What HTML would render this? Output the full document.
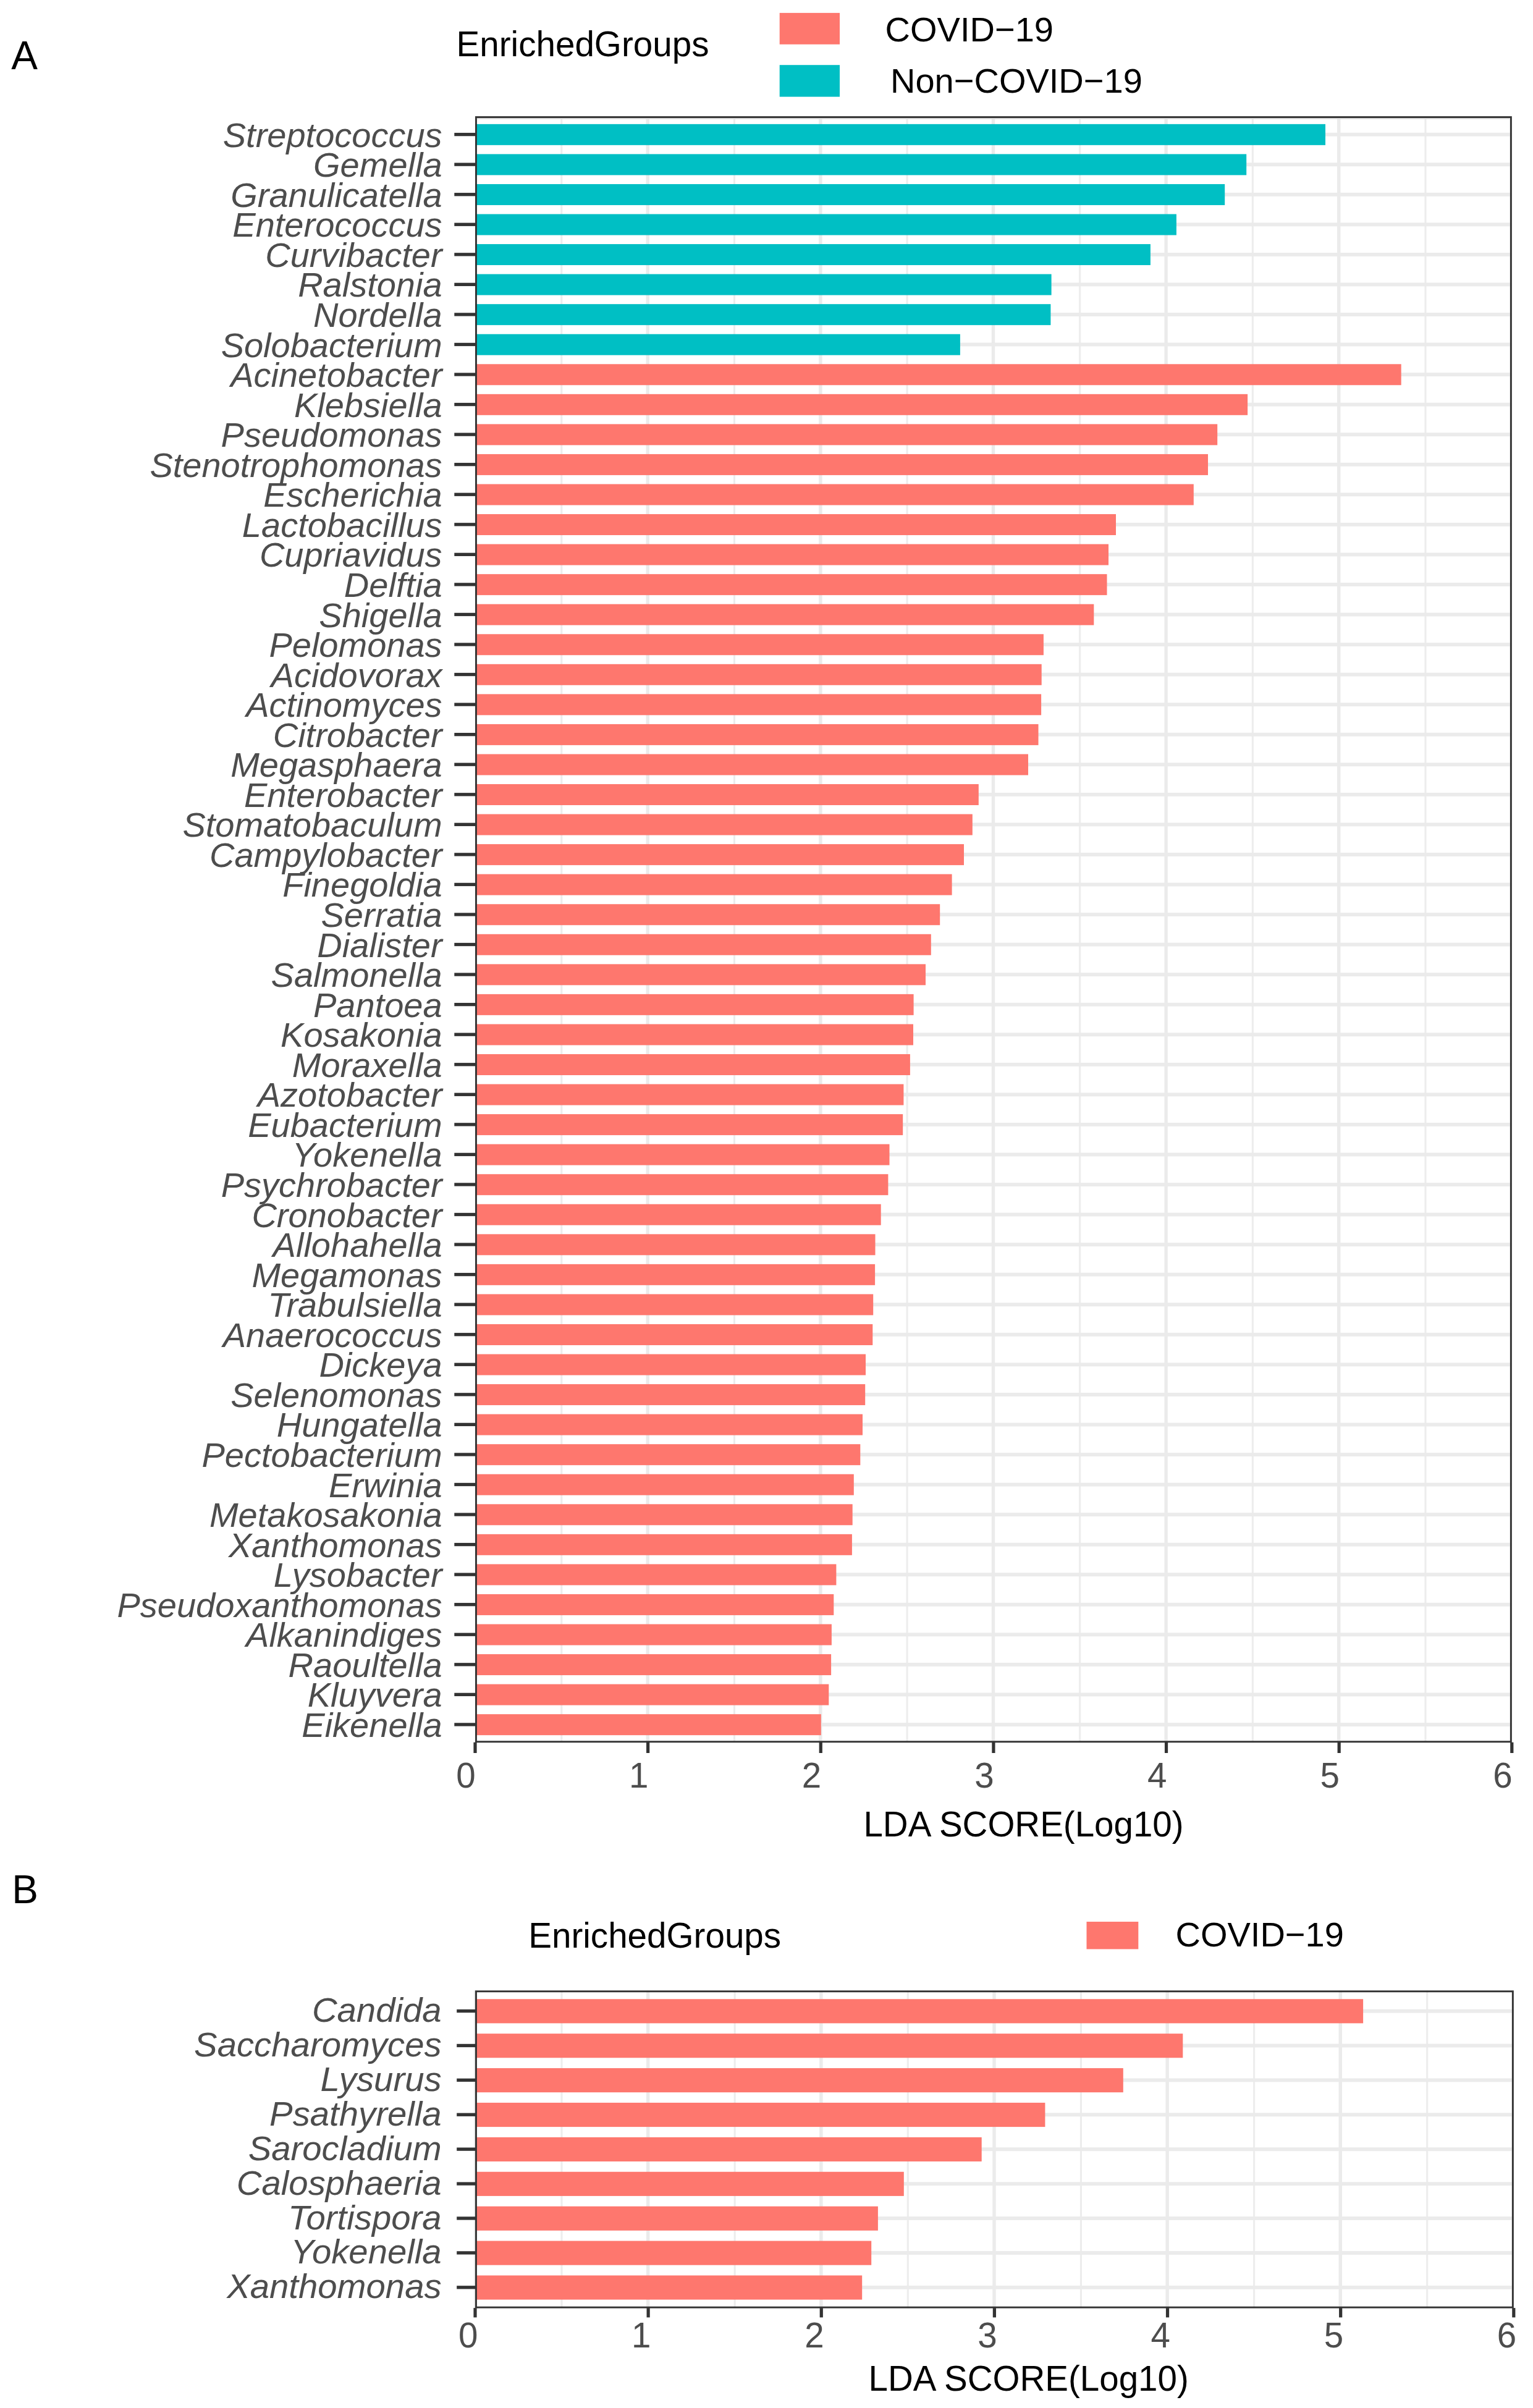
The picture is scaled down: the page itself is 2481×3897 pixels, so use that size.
<!DOCTYPE html>
<html lang="en"><head><meta charset="utf-8"><title>LDA score of enriched genera</title>
<style>html,body{margin:0;padding:0;background:#fff}svg{display:block}</style></head><body>
<svg width="2481" height="3897" viewBox="0 0 2481 3897">
<rect width="2481" height="3897" fill="#ffffff"/>
<g id="panelA">
<clipPath id="clipA"><rect x="769.0" y="188.1" width="1677.8000000000002" height="2632.1"/></clipPath>
<g clip-path="url(#clipA)">
<rect x="907.22" y="188.1" width="3.1" height="2632.10" fill="#EDEDED"/>
<rect x="1186.85" y="188.1" width="3.1" height="2632.10" fill="#EDEDED"/>
<rect x="1466.48" y="188.1" width="3.1" height="2632.10" fill="#EDEDED"/>
<rect x="1746.12" y="188.1" width="3.1" height="2632.10" fill="#EDEDED"/>
<rect x="2025.75" y="188.1" width="3.1" height="2632.10" fill="#EDEDED"/>
<rect x="2305.38" y="188.1" width="3.1" height="2632.10" fill="#EDEDED"/>
<rect x="765.90" y="188.1" width="5.4" height="2632.10" fill="#EBEBEB"/>
<rect x="1045.53" y="188.1" width="5.4" height="2632.10" fill="#EBEBEB"/>
<rect x="1325.17" y="188.1" width="5.4" height="2632.10" fill="#EBEBEB"/>
<rect x="1604.80" y="188.1" width="5.4" height="2632.10" fill="#EBEBEB"/>
<rect x="1884.43" y="188.1" width="5.4" height="2632.10" fill="#EBEBEB"/>
<rect x="2164.07" y="188.1" width="5.4" height="2632.10" fill="#EBEBEB"/>
<rect x="2443.70" y="188.1" width="5.4" height="2632.10" fill="#EBEBEB"/>
<rect x="769.0" y="214.75" width="1677.8000000000002" height="5.9" fill="#EBEBEB"/>
<rect x="769.0" y="263.30" width="1677.8000000000002" height="5.9" fill="#EBEBEB"/>
<rect x="769.0" y="311.86" width="1677.8000000000002" height="5.9" fill="#EBEBEB"/>
<rect x="769.0" y="360.41" width="1677.8000000000002" height="5.9" fill="#EBEBEB"/>
<rect x="769.0" y="408.96" width="1677.8000000000002" height="5.9" fill="#EBEBEB"/>
<rect x="769.0" y="457.51" width="1677.8000000000002" height="5.9" fill="#EBEBEB"/>
<rect x="769.0" y="506.07" width="1677.8000000000002" height="5.9" fill="#EBEBEB"/>
<rect x="769.0" y="554.62" width="1677.8000000000002" height="5.9" fill="#EBEBEB"/>
<rect x="769.0" y="603.17" width="1677.8000000000002" height="5.9" fill="#EBEBEB"/>
<rect x="769.0" y="651.73" width="1677.8000000000002" height="5.9" fill="#EBEBEB"/>
<rect x="769.0" y="700.28" width="1677.8000000000002" height="5.9" fill="#EBEBEB"/>
<rect x="769.0" y="748.83" width="1677.8000000000002" height="5.9" fill="#EBEBEB"/>
<rect x="769.0" y="797.39" width="1677.8000000000002" height="5.9" fill="#EBEBEB"/>
<rect x="769.0" y="845.94" width="1677.8000000000002" height="5.9" fill="#EBEBEB"/>
<rect x="769.0" y="894.49" width="1677.8000000000002" height="5.9" fill="#EBEBEB"/>
<rect x="769.0" y="943.04" width="1677.8000000000002" height="5.9" fill="#EBEBEB"/>
<rect x="769.0" y="991.60" width="1677.8000000000002" height="5.9" fill="#EBEBEB"/>
<rect x="769.0" y="1040.15" width="1677.8000000000002" height="5.9" fill="#EBEBEB"/>
<rect x="769.0" y="1088.70" width="1677.8000000000002" height="5.9" fill="#EBEBEB"/>
<rect x="769.0" y="1137.26" width="1677.8000000000002" height="5.9" fill="#EBEBEB"/>
<rect x="769.0" y="1185.81" width="1677.8000000000002" height="5.9" fill="#EBEBEB"/>
<rect x="769.0" y="1234.36" width="1677.8000000000002" height="5.9" fill="#EBEBEB"/>
<rect x="769.0" y="1282.92" width="1677.8000000000002" height="5.9" fill="#EBEBEB"/>
<rect x="769.0" y="1331.47" width="1677.8000000000002" height="5.9" fill="#EBEBEB"/>
<rect x="769.0" y="1380.02" width="1677.8000000000002" height="5.9" fill="#EBEBEB"/>
<rect x="769.0" y="1428.57" width="1677.8000000000002" height="5.9" fill="#EBEBEB"/>
<rect x="769.0" y="1477.13" width="1677.8000000000002" height="5.9" fill="#EBEBEB"/>
<rect x="769.0" y="1525.68" width="1677.8000000000002" height="5.9" fill="#EBEBEB"/>
<rect x="769.0" y="1574.23" width="1677.8000000000002" height="5.9" fill="#EBEBEB"/>
<rect x="769.0" y="1622.79" width="1677.8000000000002" height="5.9" fill="#EBEBEB"/>
<rect x="769.0" y="1671.34" width="1677.8000000000002" height="5.9" fill="#EBEBEB"/>
<rect x="769.0" y="1719.89" width="1677.8000000000002" height="5.9" fill="#EBEBEB"/>
<rect x="769.0" y="1768.45" width="1677.8000000000002" height="5.9" fill="#EBEBEB"/>
<rect x="769.0" y="1817.00" width="1677.8000000000002" height="5.9" fill="#EBEBEB"/>
<rect x="769.0" y="1865.55" width="1677.8000000000002" height="5.9" fill="#EBEBEB"/>
<rect x="769.0" y="1914.11" width="1677.8000000000002" height="5.9" fill="#EBEBEB"/>
<rect x="769.0" y="1962.66" width="1677.8000000000002" height="5.9" fill="#EBEBEB"/>
<rect x="769.0" y="2011.21" width="1677.8000000000002" height="5.9" fill="#EBEBEB"/>
<rect x="769.0" y="2059.76" width="1677.8000000000002" height="5.9" fill="#EBEBEB"/>
<rect x="769.0" y="2108.32" width="1677.8000000000002" height="5.9" fill="#EBEBEB"/>
<rect x="769.0" y="2156.87" width="1677.8000000000002" height="5.9" fill="#EBEBEB"/>
<rect x="769.0" y="2205.42" width="1677.8000000000002" height="5.9" fill="#EBEBEB"/>
<rect x="769.0" y="2253.98" width="1677.8000000000002" height="5.9" fill="#EBEBEB"/>
<rect x="769.0" y="2302.53" width="1677.8000000000002" height="5.9" fill="#EBEBEB"/>
<rect x="769.0" y="2351.08" width="1677.8000000000002" height="5.9" fill="#EBEBEB"/>
<rect x="769.0" y="2399.63" width="1677.8000000000002" height="5.9" fill="#EBEBEB"/>
<rect x="769.0" y="2448.19" width="1677.8000000000002" height="5.9" fill="#EBEBEB"/>
<rect x="769.0" y="2496.74" width="1677.8000000000002" height="5.9" fill="#EBEBEB"/>
<rect x="769.0" y="2545.29" width="1677.8000000000002" height="5.9" fill="#EBEBEB"/>
<rect x="769.0" y="2593.85" width="1677.8000000000002" height="5.9" fill="#EBEBEB"/>
<rect x="769.0" y="2642.40" width="1677.8000000000002" height="5.9" fill="#EBEBEB"/>
<rect x="769.0" y="2690.95" width="1677.8000000000002" height="5.9" fill="#EBEBEB"/>
<rect x="769.0" y="2739.51" width="1677.8000000000002" height="5.9" fill="#EBEBEB"/>
<rect x="769.0" y="2788.06" width="1677.8000000000002" height="5.9" fill="#EBEBEB"/>
<rect x="769.0" y="200.86" width="1376.00" height="33.99" fill="#00BFC4"/>
<rect x="769.0" y="249.41" width="1248.20" height="33.99" fill="#00BFC4"/>
<rect x="769.0" y="297.96" width="1213.20" height="33.99" fill="#00BFC4"/>
<rect x="769.0" y="346.52" width="1134.90" height="33.99" fill="#00BFC4"/>
<rect x="769.0" y="395.07" width="1092.90" height="33.99" fill="#00BFC4"/>
<rect x="769.0" y="443.62" width="932.60" height="33.99" fill="#00BFC4"/>
<rect x="769.0" y="492.17" width="931.40" height="33.99" fill="#00BFC4"/>
<rect x="769.0" y="540.73" width="784.90" height="33.99" fill="#00BFC4"/>
<rect x="769.0" y="589.28" width="1498.70" height="33.99" fill="#FE776E"/>
<rect x="769.0" y="637.83" width="1250.10" height="33.99" fill="#FE776E"/>
<rect x="769.0" y="686.39" width="1201.20" height="33.99" fill="#FE776E"/>
<rect x="769.0" y="734.94" width="1186.00" height="33.99" fill="#FE776E"/>
<rect x="769.0" y="783.49" width="1162.80" height="33.99" fill="#FE776E"/>
<rect x="769.0" y="832.05" width="1037.00" height="33.99" fill="#FE776E"/>
<rect x="769.0" y="880.60" width="1025.00" height="33.99" fill="#FE776E"/>
<rect x="769.0" y="929.15" width="1022.50" height="33.99" fill="#FE776E"/>
<rect x="769.0" y="977.70" width="1001.30" height="33.99" fill="#FE776E"/>
<rect x="769.0" y="1026.26" width="919.90" height="33.99" fill="#FE776E"/>
<rect x="769.0" y="1074.81" width="916.70" height="33.99" fill="#FE776E"/>
<rect x="769.0" y="1123.36" width="916.10" height="33.99" fill="#FE776E"/>
<rect x="769.0" y="1171.92" width="911.50" height="33.99" fill="#FE776E"/>
<rect x="769.0" y="1220.47" width="895.00" height="33.99" fill="#FE776E"/>
<rect x="769.0" y="1269.02" width="814.80" height="33.99" fill="#FE776E"/>
<rect x="769.0" y="1317.58" width="804.80" height="33.99" fill="#FE776E"/>
<rect x="769.0" y="1366.13" width="791.00" height="33.99" fill="#FE776E"/>
<rect x="769.0" y="1414.68" width="771.60" height="33.99" fill="#FE776E"/>
<rect x="769.0" y="1463.23" width="752.20" height="33.99" fill="#FE776E"/>
<rect x="769.0" y="1511.79" width="737.80" height="33.99" fill="#FE776E"/>
<rect x="769.0" y="1560.34" width="729.00" height="33.99" fill="#FE776E"/>
<rect x="769.0" y="1608.89" width="709.60" height="33.99" fill="#FE776E"/>
<rect x="769.0" y="1657.45" width="709.00" height="33.99" fill="#FE776E"/>
<rect x="769.0" y="1706.00" width="703.90" height="33.99" fill="#FE776E"/>
<rect x="769.0" y="1754.55" width="693.40" height="33.99" fill="#FE776E"/>
<rect x="769.0" y="1803.11" width="692.20" height="33.99" fill="#FE776E"/>
<rect x="769.0" y="1851.66" width="670.50" height="33.99" fill="#FE776E"/>
<rect x="769.0" y="1900.21" width="668.40" height="33.99" fill="#FE776E"/>
<rect x="769.0" y="1948.76" width="656.70" height="33.99" fill="#FE776E"/>
<rect x="769.0" y="1997.32" width="647.50" height="33.99" fill="#FE776E"/>
<rect x="769.0" y="2045.87" width="647.10" height="33.99" fill="#FE776E"/>
<rect x="769.0" y="2094.42" width="644.20" height="33.99" fill="#FE776E"/>
<rect x="769.0" y="2142.98" width="643.30" height="33.99" fill="#FE776E"/>
<rect x="769.0" y="2191.53" width="632.00" height="33.99" fill="#FE776E"/>
<rect x="769.0" y="2240.08" width="631.20" height="33.99" fill="#FE776E"/>
<rect x="769.0" y="2288.64" width="627.00" height="33.99" fill="#FE776E"/>
<rect x="769.0" y="2337.19" width="623.30" height="33.99" fill="#FE776E"/>
<rect x="769.0" y="2385.74" width="612.80" height="33.99" fill="#FE776E"/>
<rect x="769.0" y="2434.29" width="610.70" height="33.99" fill="#FE776E"/>
<rect x="769.0" y="2482.85" width="609.90" height="33.99" fill="#FE776E"/>
<rect x="769.0" y="2531.40" width="584.40" height="33.99" fill="#FE776E"/>
<rect x="769.0" y="2579.95" width="580.30" height="33.99" fill="#FE776E"/>
<rect x="769.0" y="2628.51" width="576.90" height="33.99" fill="#FE776E"/>
<rect x="769.0" y="2677.06" width="576.10" height="33.99" fill="#FE776E"/>
<rect x="769.0" y="2725.61" width="572.30" height="33.99" fill="#FE776E"/>
<rect x="769.0" y="2774.17" width="559.80" height="33.99" fill="#FE776E"/>
</g>
<rect x="770.45" y="189.55" width="1674.90" height="2629.20" fill="none" stroke="#333333" stroke-width="2.9"/>
<rect x="735.3" y="214.95" width="34.20" height="5.3" fill="#333333"/>
<rect x="735.3" y="263.50" width="34.20" height="5.3" fill="#333333"/>
<rect x="735.3" y="312.06" width="34.20" height="5.3" fill="#333333"/>
<rect x="735.3" y="360.61" width="34.20" height="5.3" fill="#333333"/>
<rect x="735.3" y="409.16" width="34.20" height="5.3" fill="#333333"/>
<rect x="735.3" y="457.72" width="34.20" height="5.3" fill="#333333"/>
<rect x="735.3" y="506.27" width="34.20" height="5.3" fill="#333333"/>
<rect x="735.3" y="554.82" width="34.20" height="5.3" fill="#333333"/>
<rect x="735.3" y="603.37" width="34.20" height="5.3" fill="#333333"/>
<rect x="735.3" y="651.93" width="34.20" height="5.3" fill="#333333"/>
<rect x="735.3" y="700.48" width="34.20" height="5.3" fill="#333333"/>
<rect x="735.3" y="749.03" width="34.20" height="5.3" fill="#333333"/>
<rect x="735.3" y="797.59" width="34.20" height="5.3" fill="#333333"/>
<rect x="735.3" y="846.14" width="34.20" height="5.3" fill="#333333"/>
<rect x="735.3" y="894.69" width="34.20" height="5.3" fill="#333333"/>
<rect x="735.3" y="943.25" width="34.20" height="5.3" fill="#333333"/>
<rect x="735.3" y="991.80" width="34.20" height="5.3" fill="#333333"/>
<rect x="735.3" y="1040.35" width="34.20" height="5.3" fill="#333333"/>
<rect x="735.3" y="1088.90" width="34.20" height="5.3" fill="#333333"/>
<rect x="735.3" y="1137.46" width="34.20" height="5.3" fill="#333333"/>
<rect x="735.3" y="1186.01" width="34.20" height="5.3" fill="#333333"/>
<rect x="735.3" y="1234.56" width="34.20" height="5.3" fill="#333333"/>
<rect x="735.3" y="1283.12" width="34.20" height="5.3" fill="#333333"/>
<rect x="735.3" y="1331.67" width="34.20" height="5.3" fill="#333333"/>
<rect x="735.3" y="1380.22" width="34.20" height="5.3" fill="#333333"/>
<rect x="735.3" y="1428.77" width="34.20" height="5.3" fill="#333333"/>
<rect x="735.3" y="1477.33" width="34.20" height="5.3" fill="#333333"/>
<rect x="735.3" y="1525.88" width="34.20" height="5.3" fill="#333333"/>
<rect x="735.3" y="1574.43" width="34.20" height="5.3" fill="#333333"/>
<rect x="735.3" y="1622.99" width="34.20" height="5.3" fill="#333333"/>
<rect x="735.3" y="1671.54" width="34.20" height="5.3" fill="#333333"/>
<rect x="735.3" y="1720.09" width="34.20" height="5.3" fill="#333333"/>
<rect x="735.3" y="1768.65" width="34.20" height="5.3" fill="#333333"/>
<rect x="735.3" y="1817.20" width="34.20" height="5.3" fill="#333333"/>
<rect x="735.3" y="1865.75" width="34.20" height="5.3" fill="#333333"/>
<rect x="735.3" y="1914.30" width="34.20" height="5.3" fill="#333333"/>
<rect x="735.3" y="1962.86" width="34.20" height="5.3" fill="#333333"/>
<rect x="735.3" y="2011.41" width="34.20" height="5.3" fill="#333333"/>
<rect x="735.3" y="2059.96" width="34.20" height="5.3" fill="#333333"/>
<rect x="735.3" y="2108.52" width="34.20" height="5.3" fill="#333333"/>
<rect x="735.3" y="2157.07" width="34.20" height="5.3" fill="#333333"/>
<rect x="735.3" y="2205.62" width="34.20" height="5.3" fill="#333333"/>
<rect x="735.3" y="2254.18" width="34.20" height="5.3" fill="#333333"/>
<rect x="735.3" y="2302.73" width="34.20" height="5.3" fill="#333333"/>
<rect x="735.3" y="2351.28" width="34.20" height="5.3" fill="#333333"/>
<rect x="735.3" y="2399.83" width="34.20" height="5.3" fill="#333333"/>
<rect x="735.3" y="2448.39" width="34.20" height="5.3" fill="#333333"/>
<rect x="735.3" y="2496.94" width="34.20" height="5.3" fill="#333333"/>
<rect x="735.3" y="2545.49" width="34.20" height="5.3" fill="#333333"/>
<rect x="735.3" y="2594.05" width="34.20" height="5.3" fill="#333333"/>
<rect x="735.3" y="2642.60" width="34.20" height="5.3" fill="#333333"/>
<rect x="735.3" y="2691.15" width="34.20" height="5.3" fill="#333333"/>
<rect x="735.3" y="2739.71" width="34.20" height="5.3" fill="#333333"/>
<rect x="735.3" y="2788.26" width="34.20" height="5.3" fill="#333333"/>
<rect x="766.40" y="2819.70" width="5.2" height="17.30" fill="#333333"/>
<rect x="1046.03" y="2819.70" width="5.2" height="17.30" fill="#333333"/>
<rect x="1325.67" y="2819.70" width="5.2" height="17.30" fill="#333333"/>
<rect x="1605.30" y="2819.70" width="5.2" height="17.30" fill="#333333"/>
<rect x="1884.93" y="2819.70" width="5.2" height="17.30" fill="#333333"/>
<rect x="2164.57" y="2819.70" width="5.2" height="17.30" fill="#333333"/>
<rect x="2444.20" y="2819.70" width="5.2" height="17.30" fill="#333333"/>
<g font-family="Liberation Sans, sans-serif" font-size="56" font-style="italic" fill="#4D4D4D" text-anchor="end">
<text x="715.6" y="237.65">Streptococcus</text>
<text x="715.6" y="286.20">Gemella</text>
<text x="715.6" y="334.76">Granulicatella</text>
<text x="715.6" y="383.31">Enterococcus</text>
<text x="715.6" y="431.86">Curvibacter</text>
<text x="715.6" y="480.42">Ralstonia</text>
<text x="715.6" y="528.97">Nordella</text>
<text x="715.6" y="577.52">Solobacterium</text>
<text x="715.6" y="626.07">Acinetobacter</text>
<text x="715.6" y="674.63">Klebsiella</text>
<text x="715.6" y="723.18">Pseudomonas</text>
<text x="715.6" y="771.73">Stenotrophomonas</text>
<text x="715.6" y="820.29">Escherichia</text>
<text x="715.6" y="868.84">Lactobacillus</text>
<text x="715.6" y="917.39">Cupriavidus</text>
<text x="715.6" y="965.94">Delftia</text>
<text x="715.6" y="1014.50">Shigella</text>
<text x="715.6" y="1063.05">Pelomonas</text>
<text x="715.6" y="1111.60">Acidovorax</text>
<text x="715.6" y="1160.16">Actinomyces</text>
<text x="715.6" y="1208.71">Citrobacter</text>
<text x="715.6" y="1257.26">Megasphaera</text>
<text x="715.6" y="1305.82">Enterobacter</text>
<text x="715.6" y="1354.37">Stomatobaculum</text>
<text x="715.6" y="1402.92">Campylobacter</text>
<text x="715.6" y="1451.47">Finegoldia</text>
<text x="715.6" y="1500.03">Serratia</text>
<text x="715.6" y="1548.58">Dialister</text>
<text x="715.6" y="1597.13">Salmonella</text>
<text x="715.6" y="1645.69">Pantoea</text>
<text x="715.6" y="1694.24">Kosakonia</text>
<text x="715.6" y="1742.79">Moraxella</text>
<text x="715.6" y="1791.35">Azotobacter</text>
<text x="715.6" y="1839.90">Eubacterium</text>
<text x="715.6" y="1888.45">Yokenella</text>
<text x="715.6" y="1937.00">Psychrobacter</text>
<text x="715.6" y="1985.56">Cronobacter</text>
<text x="715.6" y="2034.11">Allohahella</text>
<text x="715.6" y="2082.66">Megamonas</text>
<text x="715.6" y="2131.22">Trabulsiella</text>
<text x="715.6" y="2179.77">Anaerococcus</text>
<text x="715.6" y="2228.32">Dickeya</text>
<text x="715.6" y="2276.88">Selenomonas</text>
<text x="715.6" y="2325.43">Hungatella</text>
<text x="715.6" y="2373.98">Pectobacterium</text>
<text x="715.6" y="2422.53">Erwinia</text>
<text x="715.6" y="2471.09">Metakosakonia</text>
<text x="715.6" y="2519.64">Xanthomonas</text>
<text x="715.6" y="2568.19">Lysobacter</text>
<text x="715.6" y="2616.75">Pseudoxanthomonas</text>
<text x="715.6" y="2665.30">Alkanindiges</text>
<text x="715.6" y="2713.85">Raoultella</text>
<text x="715.6" y="2762.41">Kluyvera</text>
<text x="715.6" y="2810.96">Eikenella</text>
</g>
<g font-family="Liberation Sans, sans-serif" font-size="56.5" fill="#4D4D4D" text-anchor="end">
<text x="769.80" y="2892.6">0</text>
<text x="1049.43" y="2892.6">1</text>
<text x="1329.07" y="2892.6">2</text>
<text x="1608.70" y="2892.6">3</text>
<text x="1888.33" y="2892.6">4</text>
<text x="2167.97" y="2892.6">5</text>
<text x="2447.60" y="2892.6">6</text>
</g>
</g>
<rect x="767.3" y="3221.3" width="1.7" height="514.3" fill="#E4E4E4"/>
<g id="panelB">
<clipPath id="clipB"><rect x="769.0" y="3221.3" width="1680.8000000000002" height="514.2999999999997"/></clipPath>
<g clip-path="url(#clipB)">
<rect x="907.47" y="3221.3" width="3.1" height="514.30" fill="#EDEDED"/>
<rect x="1187.60" y="3221.3" width="3.1" height="514.30" fill="#EDEDED"/>
<rect x="1467.73" y="3221.3" width="3.1" height="514.30" fill="#EDEDED"/>
<rect x="1747.87" y="3221.3" width="3.1" height="514.30" fill="#EDEDED"/>
<rect x="2028.00" y="3221.3" width="3.1" height="514.30" fill="#EDEDED"/>
<rect x="2308.13" y="3221.3" width="3.1" height="514.30" fill="#EDEDED"/>
<rect x="765.90" y="3221.3" width="5.4" height="514.30" fill="#EBEBEB"/>
<rect x="1046.03" y="3221.3" width="5.4" height="514.30" fill="#EBEBEB"/>
<rect x="1326.17" y="3221.3" width="5.4" height="514.30" fill="#EBEBEB"/>
<rect x="1606.30" y="3221.3" width="5.4" height="514.30" fill="#EBEBEB"/>
<rect x="1886.43" y="3221.3" width="5.4" height="514.30" fill="#EBEBEB"/>
<rect x="2166.57" y="3221.3" width="5.4" height="514.30" fill="#EBEBEB"/>
<rect x="2446.70" y="3221.3" width="5.4" height="514.30" fill="#EBEBEB"/>
<rect x="769.0" y="3251.70" width="1680.8000000000002" height="5.9" fill="#EBEBEB"/>
<rect x="769.0" y="3307.61" width="1680.8000000000002" height="5.9" fill="#EBEBEB"/>
<rect x="769.0" y="3363.51" width="1680.8000000000002" height="5.9" fill="#EBEBEB"/>
<rect x="769.0" y="3419.42" width="1680.8000000000002" height="5.9" fill="#EBEBEB"/>
<rect x="769.0" y="3475.32" width="1680.8000000000002" height="5.9" fill="#EBEBEB"/>
<rect x="769.0" y="3531.23" width="1680.8000000000002" height="5.9" fill="#EBEBEB"/>
<rect x="769.0" y="3587.14" width="1680.8000000000002" height="5.9" fill="#EBEBEB"/>
<rect x="769.0" y="3643.04" width="1680.8000000000002" height="5.9" fill="#EBEBEB"/>
<rect x="769.0" y="3698.95" width="1680.8000000000002" height="5.9" fill="#EBEBEB"/>
<rect x="769.0" y="3235.23" width="1437.10" height="39.13" fill="#FE776E"/>
<rect x="769.0" y="3291.14" width="1145.30" height="39.13" fill="#FE776E"/>
<rect x="769.0" y="3347.04" width="1048.80" height="39.13" fill="#FE776E"/>
<rect x="769.0" y="3402.95" width="922.40" height="39.13" fill="#FE776E"/>
<rect x="769.0" y="3458.86" width="819.70" height="39.13" fill="#FE776E"/>
<rect x="769.0" y="3514.76" width="693.80" height="39.13" fill="#FE776E"/>
<rect x="769.0" y="3570.67" width="651.90" height="39.13" fill="#FE776E"/>
<rect x="769.0" y="3626.57" width="641.20" height="39.13" fill="#FE776E"/>
<rect x="769.0" y="3682.48" width="626.20" height="39.13" fill="#FE776E"/>
</g>
<rect x="770.45" y="3222.75" width="1677.90" height="511.40" fill="none" stroke="#333333" stroke-width="2.9"/>
<rect x="739.2" y="3251.90" width="30.30" height="5.3" fill="#333333"/>
<rect x="739.2" y="3307.81" width="30.30" height="5.3" fill="#333333"/>
<rect x="739.2" y="3363.71" width="30.30" height="5.3" fill="#333333"/>
<rect x="739.2" y="3419.62" width="30.30" height="5.3" fill="#333333"/>
<rect x="739.2" y="3475.52" width="30.30" height="5.3" fill="#333333"/>
<rect x="739.2" y="3531.43" width="30.30" height="5.3" fill="#333333"/>
<rect x="739.2" y="3587.34" width="30.30" height="5.3" fill="#333333"/>
<rect x="739.2" y="3643.24" width="30.30" height="5.3" fill="#333333"/>
<rect x="739.2" y="3699.15" width="30.30" height="5.3" fill="#333333"/>
<rect x="766.40" y="3735.10" width="5.2" height="15.30" fill="#333333"/>
<rect x="1046.53" y="3735.10" width="5.2" height="15.30" fill="#333333"/>
<rect x="1326.67" y="3735.10" width="5.2" height="15.30" fill="#333333"/>
<rect x="1606.80" y="3735.10" width="5.2" height="15.30" fill="#333333"/>
<rect x="1886.93" y="3735.10" width="5.2" height="15.30" fill="#333333"/>
<rect x="2167.07" y="3735.10" width="5.2" height="15.30" fill="#333333"/>
<rect x="2447.20" y="3735.10" width="5.2" height="15.30" fill="#333333"/>
<g font-family="Liberation Sans, sans-serif" font-size="56.3" font-style="italic" fill="#4D4D4D" text-anchor="end">
<text x="714.6" y="3272.10">Candida</text>
<text x="714.6" y="3328.01">Saccharomyces</text>
<text x="714.6" y="3383.91">Lysurus</text>
<text x="714.6" y="3439.82">Psathyrella</text>
<text x="714.6" y="3495.72">Sarocladium</text>
<text x="714.6" y="3551.63">Calosphaeria</text>
<text x="714.6" y="3607.54">Tortispora</text>
<text x="714.6" y="3663.44">Yokenella</text>
<text x="714.6" y="3719.35">Xanthomonas</text>
</g>
<g font-family="Liberation Sans, sans-serif" font-size="56.5" fill="#4D4D4D" text-anchor="end">
<text x="773.40" y="3799.0">0</text>
<text x="1053.53" y="3799.0">1</text>
<text x="1333.67" y="3799.0">2</text>
<text x="1613.80" y="3799.0">3</text>
<text x="1893.93" y="3799.0">4</text>
<text x="2174.07" y="3799.0">5</text>
<text x="2454.20" y="3799.0">6</text>
</g>
</g>
<rect x="771.9" y="191" width="1672" height="1.9" fill="#DDDDDD"/>
<text font-family="Liberation Sans, sans-serif" font-size="64" x="18.3" y="111.5" fill="#000">A</text>
<text font-family="Liberation Sans, sans-serif" font-size="64" x="19.3" y="3079.6" fill="#000">B</text>
<text font-family="Liberation Sans, sans-serif" font-size="56.6" x="738.5" y="91.1" fill="#000">EnrichedGroups</text>
<rect x="1261.7" y="20.9" width="97.3" height="50.9" fill="#FE776E"/>
<rect x="1261.7" y="105.2" width="97.3" height="51.4" fill="#00BFC4"/>
<text font-family="Liberation Sans, sans-serif" font-size="56" x="1432.6" y="66.8" fill="#000">COVID−19</text>
<text font-family="Liberation Sans, sans-serif" font-size="56" x="1441" y="150.3" fill="#000">Non−COVID−19</text>
<text font-family="Liberation Sans, sans-serif" font-size="56.5" x="1656.5" y="2971.6" fill="#000" text-anchor="middle">LDA SCORE(Log10)</text>
<text font-family="Liberation Sans, sans-serif" font-size="56.6" x="855.2" y="3151.7" fill="#000">EnrichedGroups</text>
<rect x="1758.5" y="3110" width="83.8" height="44.4" fill="#FE776E"/>
<text font-family="Liberation Sans, sans-serif" font-size="56" x="1902.5" y="3150.1" fill="#000">COVID−19</text>
<text font-family="Liberation Sans, sans-serif" font-size="56.5" x="1664.7" y="3868.6" fill="#000" text-anchor="middle">LDA SCORE(Log10)</text>
</svg></body></html>
